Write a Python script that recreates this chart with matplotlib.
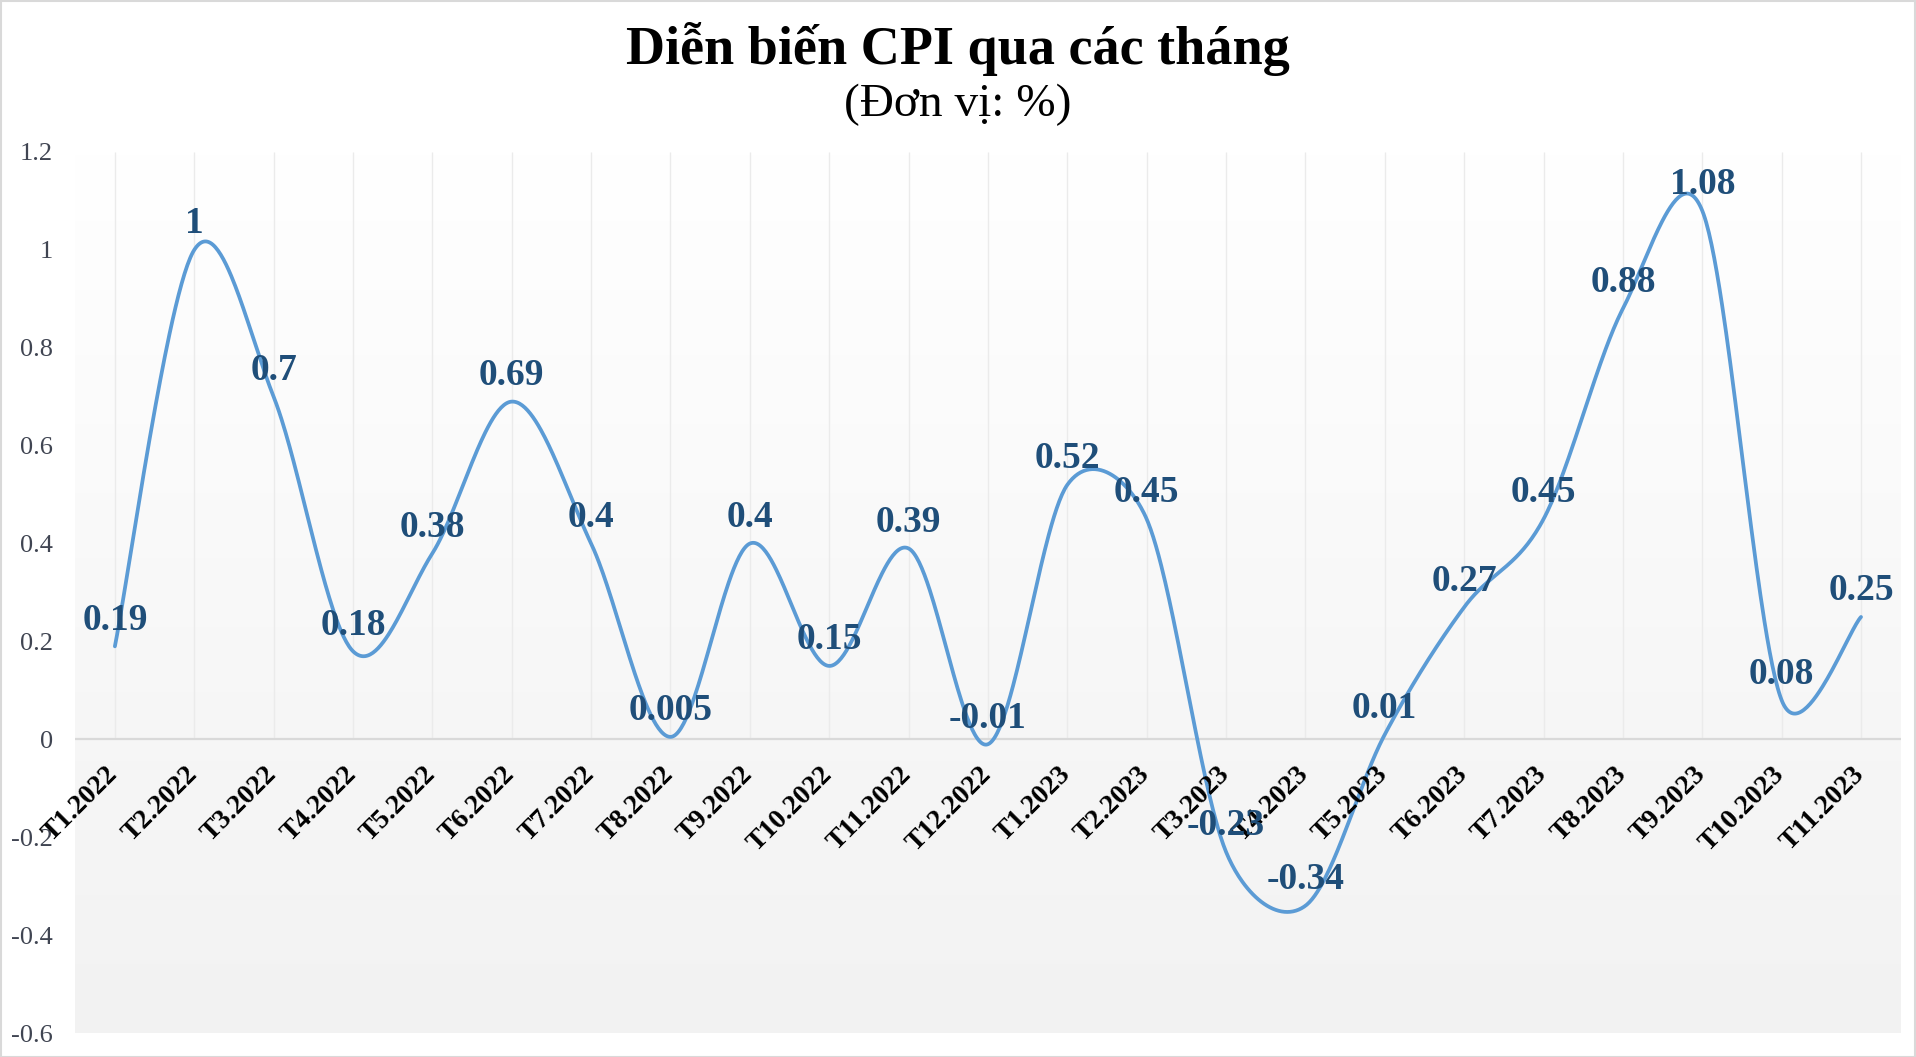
import numpy as np
import matplotlib
matplotlib.use("Agg")
import matplotlib.pyplot as plt
from matplotlib.patches import Rectangle

# ---- data ----
categories = ["T1.2022", "T2.2022", "T3.2022", "T4.2022", "T5.2022", "T6.2022",
              "T7.2022", "T8.2022", "T9.2022", "T10.2022", "T11.2022", "T12.2022",
              "T1.2023", "T2.2023", "T3.2023", "T4.2023", "T5.2023", "T6.2023",
              "T7.2023", "T8.2023", "T9.2023", "T10.2023", "T11.2023"]
cpi_values = [0.19, 1, 0.7, 0.18, 0.38, 0.69, 0.4, 0.005, 0.4, 0.15, 0.39, -0.01,
              0.52, 0.45, -0.23, -0.34, 0.01, 0.27, 0.45, 0.88, 1.08, 0.08, 0.25]
value_labels = ["0.19", "1", "0.7", "0.18", "0.38", "0.69", "0.4", "0.005", "0.4",
                "0.15", "0.39", "-0.01", "0.52", "0.45", "-0.23", "-0.34", "0.01",
                "0.27", "0.45", "0.88", "1.08", "0.08", "0.25"]
y_ticks = [-0.6, -0.4, -0.2, 0, 0.2, 0.4, 0.6, 0.8, 1, 1.2]
y_tick_labels = ["-0.6", "-0.4", "-0.2", "0", "0.2", "0.4", "0.6", "0.8", "1", "1.2"]
title = "Diễn biến CPI qua các tháng"
subtitle = "(Đơn vị: %)"

SERIF = ["Liberation Serif", "DejaVu Serif"]
plt.rcParams["font.family"] = SERIF

W, H = 1916, 1057
fig = plt.figure(figsize=(W / 100, H / 100), dpi=100)
fig.patch.set_facecolor("white")

left, right = 75.2 / W, 1900.7 / W
top, bottom = 1 - 152 / H, 1 - 1033 / H
ax = fig.add_axes([left, bottom, right - left, top - bottom])

n = len(categories)
x = np.arange(n)
y = np.array(cpi_values, dtype=float)

ax.set_xlim(-0.5, n - 0.5)
ax.set_ylim(-0.6, 1.2)

# gradient background
grad = np.linspace(0, 1, 256).reshape(-1, 1)
c_top = np.array([1.0, 1.0, 1.0])
c_bot = np.array([0xF2, 0xF2, 0xF2]) / 255.0
img = c_top[None, None, :] * (1 - grad[:, :, None]) + c_bot[None, None, :] * grad[:, :, None]
ax.imshow(img, extent=[-0.5, n - 0.5, -0.6, 1.2], aspect="auto", origin="upper", zorder=0)

# vertical gridlines (above zero)
ax.vlines(x, 0, 1.2, colors="#EBEBEB", linewidth=1.0, zorder=1)
ax.axhline(0, color="#D9D9D9", linewidth=1.6, zorder=2)

# Excel-like smoothed line: Bezier segments computed in screen space
def excel_smooth(xs, ys, sx_scale, sy_scale, per=60):
    P = np.column_stack([xs * sx_scale, ys * sy_scale])
    k = len(P)
    outx, outy = [], []
    for i in range(k - 1):
        p1, p2 = P[i], P[i + 1]
        p0 = P[i - 1] if i > 0 else p1
        p3 = P[i + 2] if i + 2 < k else p2
        d02 = np.linalg.norm(p2 - p0)
        d12 = np.linalg.norm(p2 - p1)
        d13 = np.linalg.norm(p3 - p1)
        f = 1.0 / 6.0
        f1, f2 = f, f
        if not (d02 / 6 < d12 / 2 and d13 / 6 < d12 / 2):
            f1 = d12 / d02 / 2 if (d02 > 0 and d02 / 6 >= d12 / 2) else f
            f2 = d12 / d13 / 2 if (d13 > 0 and d13 / 6 >= d12 / 2) else f
        b1 = p1 + (p2 - p0) * f1
        b2 = p2 - (p3 - p1) * f2
        t = np.linspace(0, 1, per, endpoint=False)[:, None]
        c = ((1 - t) ** 3) * p1 + 3 * ((1 - t) ** 2) * t * b1 + 3 * (1 - t) * t ** 2 * b2 + t ** 3 * p2
        outx.append(c[:, 0])
        outy.append(c[:, 1])
    outx.append([P[-1, 0]])
    outy.append([P[-1, 1]])
    return np.concatenate(outx) / sx_scale, np.concatenate(outy) / sy_scale

px_per_x = (right - left) * W / n
px_per_y = (top - bottom) * H / 1.8
sx, sy = excel_smooth(x.astype(float), y, px_per_x, px_per_y)
ax.plot(sx, sy, color="#5B9BD5", linewidth=2.7, solid_capstyle="round", zorder=3)

# data labels
for xi, yi, lab in zip(x, y, value_labels):
    ax.annotate(lab, (xi, yi), xytext=(0, 12), textcoords="offset points",
                ha="center", va="baseline", fontsize=27, fontweight="bold",
                color="#1F4E79", zorder=5)

# x category labels below zero line
for xi, lab in zip(x, categories):
    ax.annotate(lab, (xi, 0), xytext=(6, -16), textcoords="offset points",
                ha="right", va="top", rotation=45, fontsize=20, fontweight="bold",
                color="black", zorder=4)

ax.set_xticks([])
ax.set_yticks(y_ticks)
ax.set_yticklabels(y_tick_labels)
ax.tick_params(axis="y", length=0, pad=16, labelsize=19, labelcolor="#404552")
for s in ax.spines.values():
    s.set_visible(False)

fig.text(0.5, 1 - 64 / H, title, ha="center", va="baseline", fontsize=39,
         fontweight="bold", color="black")
fig.text(0.5, 1 - 116 / H, subtitle, ha="center", va="baseline", fontsize=34,
         color="black")

# outer frame
fig.patches.append(Rectangle((0.5 / W, 0.5 / H), 1 - 1.5 / W, 1 - 1.5 / H,
                             transform=fig.transFigure, fill=False,
                             edgecolor="#D9D9D9", linewidth=1.5))

fig.savefig("out.png", dpi=100)
